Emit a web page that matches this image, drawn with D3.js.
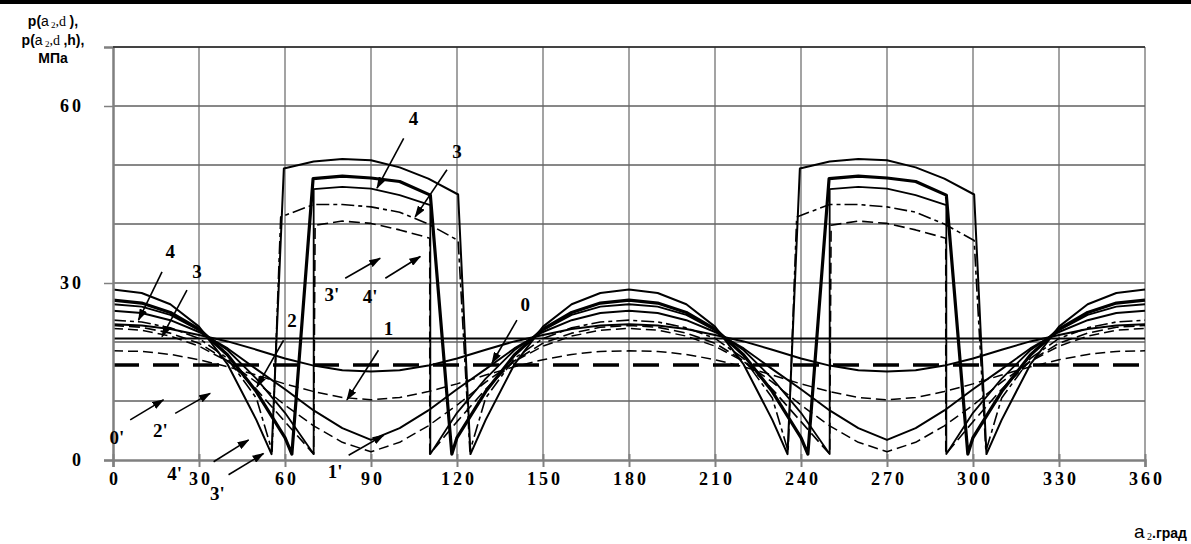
<!DOCTYPE html>
<html>
<head>
<meta charset="utf-8">
<script src="https://cdn.jsdelivr.net/npm/d3@7/dist/d3.min.js"></script>
<style>
  body { margin: 0; background: #fff; }
  .num { font-family: "Liberation Serif", "Times New Roman", serif; font-weight: bold; font-size: 18px; }
  .lab { font-family: "Liberation Serif", "Times New Roman", serif; font-weight: bold; font-size: 19px; }
</style>
</head>
<body>
<svg id="chart" width="1191" height="544"></svg>
<script>
// each curve is read for one period (0..180 deg); the chart repeats it over 180..360
var periodStarts = [0, 180];
var xTicks = [0, 30, 60, 90, 120, 150, 180, 210, 240, 270, 300, 330, 360];
var yTicks = [0, 30, 60];
var yGrid = [10, 20, 30, 40, 50, 60, 70];

// [angle, pressure]
var curve0 = [[0, 20.6], [180, 20.6]];
var curve0p = [[0, 16.1], [180, 16.1]];
var curve1 = [[0, 23.0], [10, 22.8], [20, 22.2], [30, 21.2], [40, 20.1], [50, 18.7], [60, 17.2], [70, 16.0], [80, 15.2], [90, 15.0],
  [100, 15.2], [110, 16.0], [120, 17.2], [130, 18.7], [140, 20.1], [150, 21.2], [160, 22.2], [170, 22.8], [180, 23.0]];
var curve1p = [[0, 18.5], [10, 18.4], [20, 17.9], [30, 17.0], [40, 15.8], [50, 14.4], [60, 12.9], [70, 11.6], [80, 10.6], [90, 10.2],
  [100, 10.6], [110, 11.6], [120, 12.9], [130, 14.4], [140, 15.8], [150, 17.0], [160, 17.9], [170, 18.4], [180, 18.5]];
var curve2 = [[0, 25.3], [10, 24.9], [20, 23.7], [30, 21.7], [40, 18.9], [50, 15.4], [60, 12.0], [70, 8.4], [80, 5.4], [90, 3.4],
  [100, 5.4], [110, 8.4], [120, 12.0], [130, 15.4], [140, 18.9], [150, 21.7], [160, 23.7], [170, 24.9], [180, 25.3]];
var curve2p = [[0, 22.3], [10, 22.0], [20, 21.0], [30, 19.3], [40, 16.7], [50, 13.2], [60, 9.3], [70, 5.8], [80, 3.0], [90, 1.4],
  [100, 3.0], [110, 5.8], [120, 9.3], [130, 13.2], [140, 16.7], [150, 19.3], [160, 21.0], [170, 22.0], [180, 22.3]];
var curve3 = [[0, 26.4], [10, 26.0], [20, 24.6], [30, 22.0], [40, 18.6], [50, 13.8], [60, 8.0], [70, 1.0], [70, 45.9], [80, 46.3],
  [90, 46.0], [100, 44.9], [110.7, 43.2], [110.7, 1.0], [120, 8.0], [130, 13.8], [140, 18.6], [150, 22.0], [160, 24.6], [170, 26.0], [180, 26.4]];
var curve3p = [[0, 22.8], [10, 22.5], [20, 21.5], [30, 19.8], [40, 16.8], [50, 12.0], [60, 6.5], [70, 1.0], [70.5, 39.8], [80, 40.5],
  [90, 40.1], [100, 39.0], [110.5, 37.6], [110.5, 1.0], [120, 6.5], [130, 12.0], [140, 16.8], [150, 19.8], [160, 21.5], [170, 22.5], [180, 22.8]];
var curve4 = [[0, 27.1], [10, 26.6], [20, 25.0], [30, 22.2], [40, 17.8], [50, 11.6], [60, 3.8], [62.4, 1.0], [69.8, 47.7], [80, 48.1],
  [90, 47.8], [100, 47.2], [110.7, 44.9], [118.2, 1.0], [120, 3.8], [130, 11.6], [140, 17.8], [150, 22.2], [160, 25.0], [170, 26.6], [180, 27.1]];
var curve4p = [[0, 23.7], [10, 23.4], [20, 22.4], [30, 20.6], [40, 17.2], [50, 10.5], [55.5, 1.5], [58.5, 41.2], [70, 43.3], [80, 43.3],
  [90, 42.9], [100, 42.0], [110, 40.0], [120.4, 37.2], [124.5, 1.5], [130, 10.5], [140, 17.2], [150, 20.6], [160, 22.4], [170, 23.4], [180, 23.7]];
var curve4top = [[0, 28.9], [10, 28.3], [20, 26.4], [30, 22.6], [40, 16.2], [50, 6.8], [55.3, 1.0], [59.6, 49.4], [70, 50.6], [80, 51.0],
  [90, 50.8], [100, 49.6], [110, 47.7], [120.4, 45.0], [124.7, 1.0], [130, 6.8], [140, 16.2], [150, 22.6], [160, 26.4], [170, 28.3], [180, 28.9]];

var series = [
  {data: curve0p, dash: "26,14", width: 3.4},
  {data: curve1p, dash: "10,5", width: 1.5},
  {data: curve2p, dash: "10,5", width: 1.5},
  {data: curve3p, dash: "11,5", width: 1.6},
  {data: curve4p, dash: "13,4,4,4", width: 1.6},
  {data: curve0, dash: null, width: 2},
  {data: curve1, dash: null, width: 2},
  {data: curve2, dash: null, width: 2},
  {data: curve3, dash: null, width: 1.8},
  {data: curve4, dash: null, width: 3.2},
  {data: curve4top, dash: null, width: 2}
];

// curve labels and arrows, in chart units
var labels = [
  ["4", 20.0, 35.3], ["3", 29.3, 31.9], ["2", 62.4, 23.7], ["0'", 1.4, 3.9], ["2'", 16.5, 5.1],
  ["4'", 21.5, -2.2], ["3'", 36.4, -5.6], ["1'", 77.5, -2.0], ["1", 96.1, 22.3], ["3'", 76.4, 28.0],
  ["4'", 89.7, 27.7], ["4", 104.8, 57.9], ["3", 120.0, 52.3], ["0", 143.8, 26.3]
];
var arrows = [
  [17.1, 31.9, 8.9, 23.7], [25.8, 28.8, 17.1, 20.9], [59.5, 20.3, 50.2, 12.4], [6.0, 6.8, 17.6, 10.2],
  [21.7, 7.9, 33.9, 11.3], [35.1, -0.3, 47.3, 3.4], [40.3, -2.5, 52.5, 1.1], [82.2, 0.8, 94.4, 4.2],
  [92.6, 18.6, 81.6, 10.2], [81.0, 30.8, 93.2, 34.2], [95.0, 30.8, 107.2, 34.5], [101.4, 54.5, 92.1, 46.1],
  [116.5, 49.2, 105.4, 41.2], [140.9, 23.7, 132.2, 16.4]
];

var svg = d3.select("#chart");
var x = d3.scaleLinear().domain([0, 360]).range([113, 1145]);
var y = d3.scaleLinear().domain([0, 70]).range([460, 47]);

// heavy rule along the top of the figure
svg.append("line").attr("x1", 0).attr("x2", 1191).attr("y1", 2).attr("y2", 2)
  .attr("stroke", "#000").attr("stroke-width", 4);

// grid
svg.append("g").selectAll("line").data(yGrid).enter().append("line")
  .attr("x1", x(0)).attr("x2", x(360))
  .attr("y1", function (d) { return y(d); }).attr("y2", function (d) { return y(d); })
  .attr("stroke", "#111").attr("stroke-width", 1);
svg.append("g").selectAll("line").data(xTicks.slice(1)).enter().append("line")
  .attr("x1", function (d) { return x(d); }).attr("x2", function (d) { return x(d); })
  .attr("y1", y(70)).attr("y2", y(0))
  .attr("stroke", "#666").attr("stroke-width", 1.2);

// curves
function fullTurn(pts) {
  var out = [];
  periodStarts.forEach(function (s, i) {
    pts.forEach(function (p, j) {
      if (i > 0 && j === 0) return;
      out.push([p[0] + s, p[1]]);
    });
  });
  return out;
}
var line = d3.line().x(function (d) { return x(d[0]); }).y(function (d) { return y(d[1]); });
svg.append("g").selectAll("path").data(series).enter().append("path")
  .attr("d", function (d) { return line(fullTurn(d.data)); })
  .attr("fill", "none").attr("stroke", "#000")
  .attr("stroke-width", function (d) { return d.width; })
  .attr("stroke-dasharray", function (d) { return d.dash; })
  .attr("stroke-linejoin", "round");

// axes
var xAxis = svg.append("g").attr("transform", "translate(0," + y(0) + ")")
  .call(d3.axisBottom(x).tickValues(xTicks).tickSize(7).tickPadding(13).tickFormat(d3.format("d")));
xAxis.select(".domain").attr("stroke", "#808080").attr("stroke-width", 2.5);
xAxis.selectAll(".tick line").attr("stroke", "#808080").attr("stroke-width", 2).attr("y1", -6);
xAxis.selectAll("text").attr("class", "num").attr("fill", "#000")
  .style("letter-spacing", "3px").attr("dx", 1.5).attr("dy", "0.3em");

var yAxis = svg.append("g").attr("transform", "translate(" + x(0) + ",0)")
  .call(d3.axisLeft(y).tickValues(yTicks).tickSize(9).tickPadding(20).tickFormat(d3.format("d")));
yAxis.select(".domain").attr("stroke", "#808080").attr("stroke-width", 2.5);
yAxis.selectAll(".tick line").attr("stroke", "#808080").attr("stroke-width", 1.5);
yAxis.selectAll("text").attr("class", "num").attr("fill", "#000").style("letter-spacing", "3px");

svg.append("line").attr("x1", x(0)).attr("x2", x(360)).attr("y1", y(70)).attr("y2", y(70))
  .attr("stroke", "#000").attr("stroke-width", 1.2);

// labels and arrows on the curves
svg.append("defs").append("marker").attr("id", "head")
  .attr("viewBox", "0 0 12 8").attr("refX", 11).attr("refY", 4)
  .attr("markerWidth", 12).attr("markerHeight", 8)
  .attr("markerUnits", "userSpaceOnUse").attr("orient", "auto")
  .append("path").attr("d", "M0,0 L12,4 L0,8 Z").attr("fill", "#000");

svg.append("g").selectAll("line").data(arrows).enter().append("line")
  .attr("x1", function (d) { return x(d[0]); }).attr("y1", function (d) { return y(d[1]); })
  .attr("x2", function (d) { return x(d[2]); }).attr("y2", function (d) { return y(d[3]); })
  .attr("stroke", "#000").attr("stroke-width", 1.6).attr("marker-end", "url(#head)");

svg.append("g").selectAll("text").data(labels).enter().append("text")
  .attr("class", "lab")
  .attr("x", function (d) { return x(d[1]); }).attr("y", function (d) { return y(d[2]); })
  .attr("text-anchor", "middle").attr("dy", "0.35em")
  .text(function (d) { return d[0]; });

// axis titles
var sans = "'Liberation Sans', Arial, sans-serif";
var serif = "'Liberation Serif', 'Times New Roman', serif";
function yTitleLine(yy, withH) {
  var t = svg.append("text").attr("x", 53).attr("y", yy).attr("text-anchor", "middle");
  t.append("tspan").attr("font-family", sans).attr("font-weight", "bold").attr("font-size", 14).text("p(");
  t.append("tspan").attr("font-family", sans).attr("font-size", 14).text("a");
  t.append("tspan").attr("font-family", serif).attr("font-size", 9).attr("dy", 2).text(" 2");
  t.append("tspan").attr("font-family", serif).attr("font-size", 14).attr("dy", -2).text(",d ");
  if (withH) t.append("tspan").attr("font-family", sans).attr("font-weight", "bold").attr("font-size", 14).text(",h");
  t.append("tspan").attr("font-family", sans).attr("font-weight", "bold").attr("font-size", 14).text("),");
}
yTitleLine(26, false);
yTitleLine(45, true);
svg.append("text").attr("x", 53).attr("y", 63).attr("text-anchor", "middle")
  .attr("font-family", sans).attr("font-weight", "bold").attr("font-size", 14).text("МПа");

var xt = svg.append("text").attr("x", 1187).attr("y", 538).attr("text-anchor", "end");
xt.append("tspan").attr("font-family", sans).attr("font-size", 19).text("a");
xt.append("tspan").attr("font-family", serif).attr("font-size", 10).attr("dy", 2).text(" 2");
xt.append("tspan").attr("font-family", sans).attr("font-weight", "bold").attr("font-size", 14).attr("dy", -2).text(".град");
</script>
</body>
</html>
